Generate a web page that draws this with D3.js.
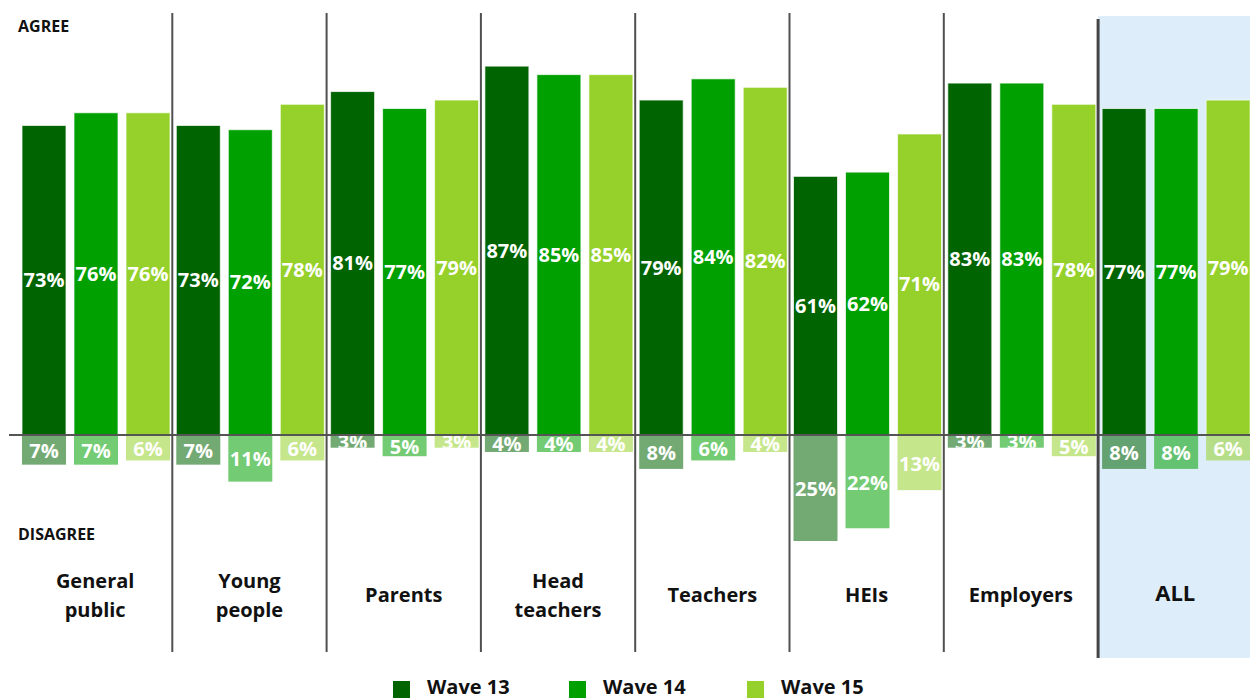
<!DOCTYPE html>
<html><head><meta charset="utf-8">
<script src="https://cdn.jsdelivr.net/npm/d3@7"></script>
<style>body{margin:0;background:#fff}svg{display:block;font-family:"Open Sans",sans-serif}</style>
</head><body><svg id="c" width="1250" height="700"></svg>
<script>
const categories = ["General public","Young people","Parents","Head teachers","Teachers","HEIs","Employers","ALL"];
const categoryLines = [["General","public"],["Young","people"],["Parents"],["Head","teachers"],["Teachers"],["HEIs"],["Employers"],["ALL"]];
const series = ["Wave 13","Wave 14","Wave 15"];
const agreeW13 = [73,73,81,87,79,61,83,77];
const agreeW14 = [76,72,77,85,84,62,83,77];
const agreeW15 = [76,78,79,85,82,71,78,79];
const disagreeW13 = [7,7,3,4,8,25,3,8];
const disagreeW14 = [7,11,5,4,6,22,3,8];
const disagreeW15 = [6,6,3,4,4,13,5,6];
const colors = ["#006400","#00A000","#95D12A"];

const agree = [agreeW13, agreeW14, agreeW15];
const disagree = [disagreeW13, disagreeW14, disagreeW15];
const svg = d3.select("#c");

const gStep = 154.3;
const x0 = d3.scaleBand().domain(categories).range([18, 18 + gStep*categories.length]).padding(0);
const x1 = d3.scaleBand().domain(series).range([4, 152]).paddingInner(0.154).paddingOuter(0);
const y = d3.scaleLinear().domain([-30, 90]).range([435 + 30*4.24, 435 - 90*4.24]);

// ALL background
const allX = x0("ALL");
svg.append("rect").attr("x", allX).attr("y", 16).attr("width", 1250 - allX).attr("height", 642).attr("fill", "#DDEEFA");

const data = [];
categories.forEach((c, i) => series.forEach((s, j) => data.push({c, s, j, a: agree[j][i], d: disagree[j][i], i})));

const defs = svg.append("defs");
data.forEach((d, k) => {
  defs.append("clipPath").attr("id", "clip" + k).append("rect")
    .attr("x", x0(d.c) + x1(d.s)).attr("y", y(0) + 1).attr("width", x1.bandwidth()).attr("height", y(-d.d) - y(0) - 1);
});

// agree bars
svg.append("g").selectAll("rect").data(data).join("rect")
  .attr("x", d => x0(d.c) + x1(d.s)).attr("y", d => y(d.a))
  .attr("width", x1.bandwidth()).attr("height", d => y(0) - y(d.a))
  .attr("fill", d => colors[d.j]).attr("stroke", "rgba(255,255,255,0.7)").attr("stroke-width", 1);

// disagree bars
svg.append("g").selectAll("rect").data(data).join("rect")
  .attr("x", d => x0(d.c) + x1(d.s)).attr("y", y(0))
  .attr("width", x1.bandwidth()).attr("height", d => y(-d.d) - y(0))
  .attr("fill", d => colors[d.j]).attr("fill-opacity", 0.55);

// agree labels
svg.append("g").selectAll("text").data(data).join("text")
  .attr("x", d => x0(d.c) + x1(d.s) + x1.bandwidth()/2)
  .attr("y", d => (y(d.a) + y(0))/2)
  .attr("dy", "0.35em").attr("text-anchor", "middle")
  .attr("fill", "#fff").attr("font-weight", 700).attr("font-size", 20)
  .text(d => d.a + "%");

// disagree labels (clipped to bar)
svg.append("g").selectAll("text").data(data).join("text")
  .attr("clip-path", (d, k) => `url(#clip${k})`)
  .attr("x", d => x0(d.c) + x1(d.s) + x1.bandwidth()/2)
  .attr("y", d => (y(-d.d) + y(0))/2 + 1)
  .attr("dy", "0.35em").attr("text-anchor", "middle")
  .attr("fill", "#fff").attr("font-weight", 700).attr("font-size", 20)
  .text(d => d.d + "%");

// baseline
svg.append("line").attr("x1", 9).attr("x2", 1250).attr("y1", y(0)).attr("y2", y(0))
  .attr("stroke", "#555").attr("stroke-width", 2);

// separators
categories.slice(1, -1).forEach(c => {
  svg.append("line").attr("x1", x0(c)).attr("x2", x0(c)).attr("y1", 13).attr("y2", 652)
    .attr("stroke", "#505050").attr("stroke-width", 2);
});
svg.append("line").attr("x1", allX).attr("x2", allX).attr("y1", 19).attr("y2", 658)
  .attr("stroke", "#454545").attr("stroke-width", 3);

// side labels
svg.append("text").attr("x", 18).attr("y", 32).attr("font-weight", 700).attr("font-size", 16).attr("fill", "#111").text("AGREE");
svg.append("text").attr("x", 18).attr("y", 540).attr("font-weight", 700).attr("font-size", 16).attr("fill", "#111").text("DISAGREE");

// category labels
categories.forEach((c, i) => {
  const lines = categoryLines[i];
  const cx = x0(c) + x0.bandwidth()/2;
  const isAll = c === "ALL";
  const t = svg.append("text").attr("text-anchor", "middle").attr("font-weight", 700)
    .attr("font-size", isAll ? 22 : 20).attr("fill", "#111");
  if (lines.length === 2) {
    t.append("tspan").attr("x", cx).attr("y", 588).text(lines[0]);
    t.append("tspan").attr("x", cx).attr("y", 617).text(lines[1]);
  } else {
    t.append("tspan").attr("x", cx).attr("y", isAll ? 601 : 602).text(lines[0]);
  }
});

// legend
const legX = [393, 569, 747];
series.forEach((s, j) => {
  svg.append("rect").attr("x", legX[j]).attr("y", 681).attr("width", 17).attr("height", 17).attr("fill", colors[j]);
  svg.append("text").attr("x", legX[j] + 34).attr("y", 694).attr("font-weight", 700).attr("font-size", 20).attr("fill", "#111").text(s);
});
</script></body></html>
